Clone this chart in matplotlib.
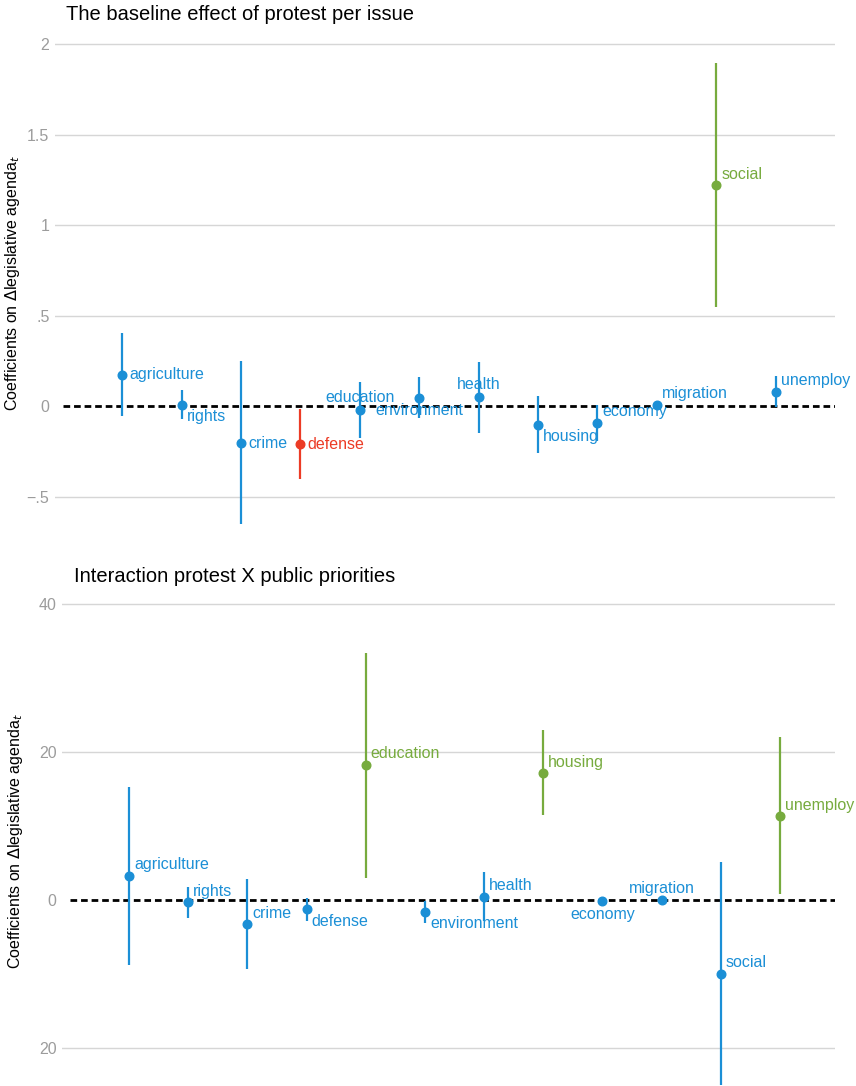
import matplotlib
matplotlib.use('Agg')
import matplotlib.pyplot as plt

# Issues in plotting order
issues = ["agriculture", "rights", "crime", "defense", "education", "environment",
          "health", "housing", "economy", "migration", "social", "unemploy"]

# Panel 1: baseline effect of protest per issue
base_coef = [0.174, 0.009, -0.203, -0.210, -0.019, 0.049, 0.052, -0.100, -0.090, 0.009, 1.221, 0.081]
base_lo = [-0.055, -0.070, -0.648, -0.398, -0.174, -0.066, -0.145, -0.258, -0.190, 0.000, 0.547, -0.005]
base_hi = [0.404, 0.091, 0.248, -0.017, 0.135, 0.161, 0.247, 0.058, 0.007, 0.018, 1.895, 0.167]
base_sig = ["ns", "ns", "ns", "neg", "ns", "ns", "ns", "ns", "ns", "ns", "pos", "ns"]

# Panel 2: interaction protest X public priorities
inter_coef = [3.26, -0.32, -3.26, -1.27, 18.25, -1.58, 0.45, 17.16, -0.14, -0.05, -9.98, 11.35]
inter_lo = [-8.83, -2.49, -9.38, -2.81, 3.03, -3.07, -2.84, 11.49, -0.30, -0.20, -26.0, 0.81]
inter_hi = [15.3, 1.77, 2.90, 0.23, 33.4, -0.09, 3.79, 22.97, 0.02, 0.10, 5.19, 22.0]
inter_sig = ["ns", "ns", "ns", "ns", "pos", "ns", "ns", "pos", "ns", "ns", "ns", "pos"]

base_ticks = [-0.5, 0, 0.5, 1, 1.5, 2]
base_ticklabels = ["\u2212.5", "0", ".5", "1", "1.5", "2"]
inter_ticks = [-20, 0, 20, 40]
inter_ticklabels = ["20", "0", "20", "40"]

# Styling
colors = {"ns": "#1b8fd6", "pos": "#77ab3e", "neg": "#ec3b25"}
base_pos = ['r', 'lr', 'r', 'r', 'u', 'd', 'u', 'lr', 'ur', 'ur', 'ur', 'ur']
inter_pos = ['ur', 'ur', 'ur', 'lr', 'ur', 'lr', 'ur', 'ur', 'd', 'u', 'ur', 'ur']
px = 0.72  # pixels -> points at 100 dpi
offsets = {'r': ((7, 0), 'left'), 'ur': ((5, 11), 'left'), 'lr': ((5, -12), 'left'),
           'u': ((0, 12), 'center'), 'd': ((0, -13), 'center')}

plt.rcParams['font.family'] = ['Liberation Sans', 'DejaVu Sans']

fig = plt.figure(figsize=(8.56, 10.86), dpi=100, facecolor='w')


def draw_panel(ax, coef, lo, hi, sig, pos, ticks, ticklabels, xlim, ylim):
    xs = list(range(1, len(issues) + 1))
    for t in ticks:
        if t != 0:
            ax.axhline(t, color='#d6d6d6', lw=1.0, zorder=0)
    ax.plot([0, 13], [0, 0], color='k', lw=2.0, linestyle=(0, (2.4, 1.4)), zorder=1)
    for i in range(len(issues)):
        c = colors[sig[i]]
        ax.plot([xs[i], xs[i]], [lo[i], hi[i]], color=c, lw=1.6, zorder=2, solid_capstyle='butt')
        ax.plot(xs[i], coef[i], 'o', color=c, ms=6.2, zorder=3)
        (dx, dy), ha = offsets[pos[i]]
        ax.annotate(issues[i], (xs[i], coef[i]), xytext=(dx * px, dy * px), textcoords='offset points',
                    ha=ha, va='center', color=c, fontsize=11.5, zorder=4)
    ax.set_xlim(*xlim)
    ax.set_ylim(*ylim)
    ax.set_yticks(ticks)
    ax.set_yticklabels(ticklabels)
    ax.set_xticks([])
    ax.tick_params(axis='y', length=0, pad=4, labelsize=11.5, labelcolor='#9c9c9c')
    for s in ax.spines.values():
        s.set_visible(False)
    ax.set_ylabel("Coefficients on $\\mathit{\\Delta}$legislative agenda$_t$", fontsize=11.5)


############### Top panel #############################################
ax1 = fig.add_axes([55 / 856, 1 - 526 / 1086, 780 / 856, 485.6 / 1086])
draw_panel(ax1, base_coef, base_lo, base_hi, base_sig, base_pos, base_ticks, base_ticklabels,
           (-0.13, 13), (-0.66, 2.02))
ax1.yaxis.set_label_coords(-0.042, 0.5)
fig.text(66 / 856, 1 - 15 / 1086, "The baseline effect of protest per issue", fontsize=14.5, ha='left', va='center')

############### Bottom panel #############################################
ax2 = fig.add_axes([62 / 856, 1 - 1085 / 1086, 773 / 856, 488.4 / 1086])
draw_panel(ax2, inter_coef, inter_lo, inter_hi, inter_sig, inter_pos, inter_ticks, inter_ticklabels,
           (-0.132, 12.93), (-25, 41))
ax2.yaxis.set_label_coords(-0.048, 0.5)
fig.text(74 / 856, 1 - 576 / 1086, "Interaction protest X public priorities", fontsize=14.5, ha='left', va='center')

plt.savefig("out.png", dpi=100)
plt.close()
